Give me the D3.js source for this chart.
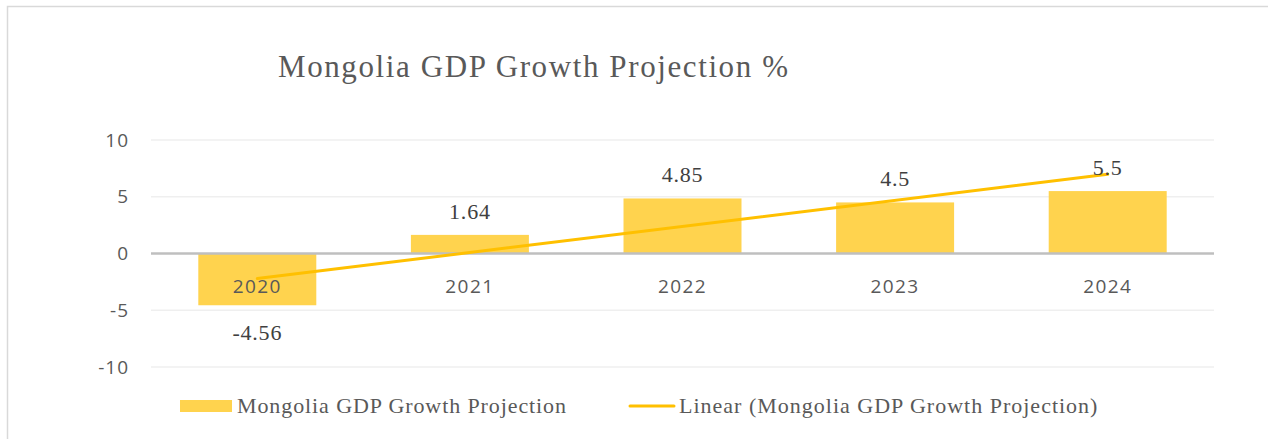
<!DOCTYPE html>
<html>
<head>
<meta charset="utf-8">
<script src="https://cdn.jsdelivr.net/npm/d3@7"></script>
<style>
  body { margin: 0; background: #fff; }
</style>
</head>
<body>
<svg id="chart" width="1268" height="439"></svg>
<script>
// chart data
var years = ['2020', '2021', '2022', '2023', '2024'];
var growth = [-4.56, 1.64, 4.85, 4.5, 5.5];
var yTicks = [-10, -5, 0, 5, 10];

var svg = d3.select('#chart');
var sans = '"Open Sans", "Noto Sans", sans-serif';
var serif = '"Liberation Serif", "DejaVu Serif", serif';
var textColor = '#595959';

// outer frame (only top and left edges visible)
svg.append('path')
    .attr('d', 'M7.5,439 L7.5,6.5 L1268,6.5')
    .attr('fill', 'none')
    .attr('stroke', '#d9d9d9')
    .attr('stroke-width', 1.5);

var left = 151, right = 1214;
var x = d3.scaleBand().domain(years).range([left, right]).paddingInner(0.445).paddingOuter(0.2225);
var y = d3.scaleLinear().domain([-10, 10]).range([367, 140]);

// title
svg.append('text')
    .attr('x', 278).attr('y', 77)
    .attr('font-family', serif).attr('font-size', 31)
    .attr('fill', textColor)
    .attr('letter-spacing', 1.6)
    .text('Mongolia GDP Growth Projection %');

// gridlines
svg.selectAll('.grid').data(yTicks.filter(function(t) { return t !== 0; }))
    .enter().append('line')
    .attr('x1', left).attr('x2', right)
    .attr('y1', function(d) { return y(d); }).attr('y2', function(d) { return y(d); })
    .attr('stroke', '#efefef').attr('stroke-width', 1.5);

// y tick labels
svg.selectAll('.ytick').data(yTicks).enter().append('text')
    .attr('x', 129).attr('y', function(d) { return y(d); })
    .attr('dy', '0.35em')
    .attr('text-anchor', 'end')
    .attr('font-family', sans).attr('font-size', 19)
    .attr('letter-spacing', 1)
    .attr('fill', textColor)
    .text(function(d) { return d; });

// bars
svg.selectAll('.bar').data(growth).enter().append('rect')
    .attr('x', function(d, i) { return x(years[i]); })
    .attr('width', x.bandwidth())
    .attr('y', function(d) { return y(Math.max(0, d)); })
    .attr('height', function(d) { return Math.abs(y(d) - y(0)); })
    .attr('fill', '#ffd34e');

// zero line
svg.append('line')
    .attr('x1', left).attr('x2', right)
    .attr('y1', y(0)).attr('y2', y(0))
    .attr('stroke', '#bfbfbf').attr('stroke-width', 2.5);

// category labels
svg.selectAll('.cat').data(years).enter().append('text')
    .attr('x', function(d) { return x(d) + x.bandwidth() / 2; })
    .attr('y', 293)
    .attr('text-anchor', 'middle')
    .attr('font-family', sans).attr('font-size', 19)
    .attr('letter-spacing', 1.4)
    .attr('fill', textColor)
    .text(function(d) { return d; });

// linear trend line (least squares over the category index)
var n = growth.length;
var xs = d3.range(1, n + 1);
var mx = d3.mean(xs), my = d3.mean(growth);
var slope = d3.sum(xs, function(v, i) { return (v - mx) * (growth[i] - my); }) /
            d3.sum(xs, function(v) { return (v - mx) * (v - mx); });
var icpt = my - slope * mx;
var cx = function(i) { return x(years[i]) + x.bandwidth() / 2; };

svg.append('line')
    .attr('x1', cx(0)).attr('y1', y(icpt + slope * 1))
    .attr('x2', cx(n - 1)).attr('y2', y(icpt + slope * n))
    .attr('stroke', '#ffc000').attr('stroke-width', 3)
    .attr('stroke-linecap', 'round');

// data labels
svg.selectAll('.val').data(growth).enter().append('text')
    .attr('x', function(d, i) { return cx(i); })
    .attr('y', function(d) { return d < 0 ? y(d) + 35 : y(d) - 16; })
    .attr('text-anchor', 'middle')
    .attr('font-family', serif).attr('font-size', 22)
    .attr('letter-spacing', 0.8)
    .attr('fill', '#404040')
    .text(function(d) { return d; });

// legend
svg.append('rect')
    .attr('x', 180).attr('y', 400).attr('width', 52).attr('height', 12)
    .attr('fill', '#ffd34e');
svg.append('text')
    .attr('x', 237).attr('y', 413)
    .attr('font-family', serif).attr('font-size', 22)
    .attr('letter-spacing', 0.9)
    .attr('fill', textColor)
    .text('Mongolia GDP Growth Projection');

svg.append('line')
    .attr('x1', 630).attr('x2', 674).attr('y1', 406).attr('y2', 406)
    .attr('stroke', '#ffc000').attr('stroke-width', 3)
    .attr('stroke-linecap', 'round');
svg.append('text')
    .attr('x', 679).attr('y', 413)
    .attr('font-family', serif).attr('font-size', 22)
    .attr('letter-spacing', 1.0)
    .attr('fill', textColor)
    .text('Linear (Mongolia GDP Growth Projection)');
</script>
</body>
</html>
